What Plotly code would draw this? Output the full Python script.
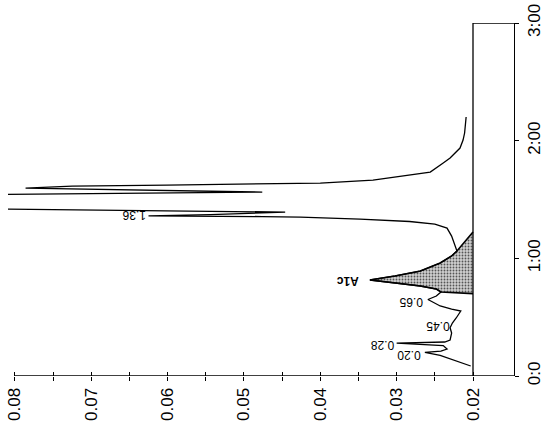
import plotly.graph_objects as go

# ---- data (time in minutes, absorbance) ----
time_min = [0.085, 0.110, 0.136, 0.161, 0.176, 0.200, 0.212, 0.229, 0.259, 0.280,
            0.289, 0.306, 0.365, 0.410, 0.450, 0.493, 0.552, 0.569, 0.595, 0.650,
            0.680, 0.714, 0.739, 0.765, 0.786, 0.816, 0.850, 0.892, 0.960, 1.020,
            1.062, 1.121, 1.189, 1.257, 1.291, 1.313, 1.334, 1.351, 1.355, 1.360,
            1.372, 1.393, 1.419, 1.436, 1.529, 1.553, 1.557, 1.563, 1.597, 1.614,
            1.623, 1.631, 1.635, 1.640, 1.665, 1.708, 1.733, 1.810, 1.852, 1.937,
            2.005, 2.065, 2.201]
absorbance = [0.0203, 0.0214, 0.0226, 0.0235, 0.0243, 0.0263, 0.0242, 0.0234, 0.0239, 0.0300,
              0.0237, 0.0230, 0.0228, 0.0230, 0.0227, 0.0222, 0.0216, 0.0228, 0.0243, 0.0259,
              0.0248, 0.0242, 0.0248, 0.0269, 0.0296, 0.0335, 0.0302, 0.0269, 0.0243, 0.0228,
              0.0221, 0.0224, 0.0228, 0.0234, 0.0250, 0.0283, 0.0348, 0.0426, 0.0476, 0.0625,
              0.0544, 0.0446, 0.0806, 0.1080, 0.1080, 0.0645, 0.0557, 0.0476, 0.0786, 0.0725,
              0.0601, 0.0492, 0.0440, 0.0400, 0.0331, 0.0286, 0.0256, 0.0239, 0.0230, 0.0217,
              0.0213, 0.0211, 0.0209]

# A1c integrated region (index range in the arrays above) and its baseline
a1c_first, a1c_last = 21, 30
baseline_abs = 0.02
a1c_base_start, a1c_base_end = 0.700, 1.223

peak_labels = ["0.20", "0.28", "0.45", "0.65", "<b>A1c</b>", "1.36"]
peak_times = [0.200, 0.280, 0.450, 0.650, 0.816, 1.360]
peak_abs = [0.0263, 0.0300, 0.0227, 0.0259, 0.0335, 0.0625]
label_shift_px = [(-16, -2), (-14, -2), (-15, -3), (-17, -3), (-22, -1), (-15, 1)]

abs_tick_vals = [0.08, 0.075, 0.07, 0.065, 0.06, 0.055, 0.05, 0.045, 0.04, 0.035, 0.03, 0.025, 0.02]
abs_tick_text = ["0.08", "", "0.07", "", "0.06", "", "0.05", "", "0.04", "", "0.03", "", "0.02"]
time_tick_vals = [0, 1, 2, 3]
time_tick_text = ["0:0", "1:00", "2:00", "3:00"]

abs_range = [0.0809, 0.01463]
time_range = [0, 3]

fig = go.Figure()

# shaded A1c area
fill_t = [a1c_base_start] + time_min[a1c_first:a1c_last + 1] + [a1c_base_end]
fill_a = [baseline_abs] + absorbance[a1c_first:a1c_last + 1] + [baseline_abs]
fig.add_trace(go.Scatter(
    x=fill_a, y=fill_t, mode="lines", fill="toself",
    fillcolor="#b4b4b4",
    fillpattern=dict(shape=".", size=3, solidity=0.3, fgcolor="#555555", bgcolor="#cfcfcf", fillmode="replace"),
    line=dict(color="black", width=1.6), hoverinfo="skip"))

# chromatogram trace
fig.add_trace(go.Scatter(x=absorbance, y=time_min, mode="lines",
                         line=dict(color="black", width=1.3)))

# helper trace for the overlay axis (inner tick marks)
fig.add_trace(go.Scatter(x=[], y=[], xaxis="x2", mode="lines"))

axis_font = dict(family="Liberation Sans, Arial, sans-serif", size=17, color="black")

fig.update_layout(
    width=552, height=433,
    margin=dict(l=8, r=38, t=23, b=57, autoexpand=False),
    paper_bgcolor="white", plot_bgcolor="white",
    showlegend=False,
    font=dict(family="Liberation Sans, Arial, sans-serif", color="black"),
    xaxis=dict(range=abs_range, tickvals=abs_tick_vals, ticktext=abs_tick_text,
               tickangle=-90, ticks="outside", ticklen=4, tickwidth=1.2, tickcolor="black",
               showgrid=False, zeroline=False, showline=False, tickfont=axis_font,
               automargin=False),
    xaxis2=dict(overlaying="x", matches="x", anchor="y", side="bottom",
                tickvals=abs_tick_vals, ticks="inside", ticklen=4, tickwidth=1.2,
                tickcolor="black", showticklabels=False, showgrid=False,
                zeroline=False, showline=False, automargin=False),
    yaxis=dict(range=time_range, side="right", tickvals=time_tick_vals, ticktext=time_tick_text,
               tickangle=-90, ticks="outside", ticklen=4, tickwidth=1.2, tickcolor="black",
               showline=True, linecolor="black", linewidth=1.3,
               showgrid=False, zeroline=False, tickfont=axis_font, automargin=False),
)

# absorbance axis line, the 0.02 baseline and the top of the box
fig.add_shape(type="line", xref="x", yref="y", x0=abs_tick_vals[0], x1=abs_range[1],
              y0=time_range[0], y1=time_range[0], line=dict(color="black", width=1.3))
fig.add_shape(type="line", xref="x", yref="y", x0=baseline_abs, x1=baseline_abs,
              y0=time_range[0], y1=time_range[1], line=dict(color="black", width=1.3))
fig.add_shape(type="line", xref="x", yref="y", x0=baseline_abs, x1=abs_range[1],
              y0=time_range[1], y1=time_range[1], line=dict(color="black", width=1.3))

for lab, t, a, (dx, dy) in zip(peak_labels, peak_times, peak_abs, label_shift_px):
    fig.add_annotation(x=a, y=t, text=lab, textangle=180, showarrow=False,
                       xshift=dx, yshift=dy, xanchor="center", yanchor="middle",
                       font=dict(family="Liberation Sans, Arial, sans-serif", size=12, color="black"))

fig.write_html("out.html",
               config={"displayModeBar": False},
               post_script="document.body.style.margin='0';document.body.style.overflow='hidden';")
